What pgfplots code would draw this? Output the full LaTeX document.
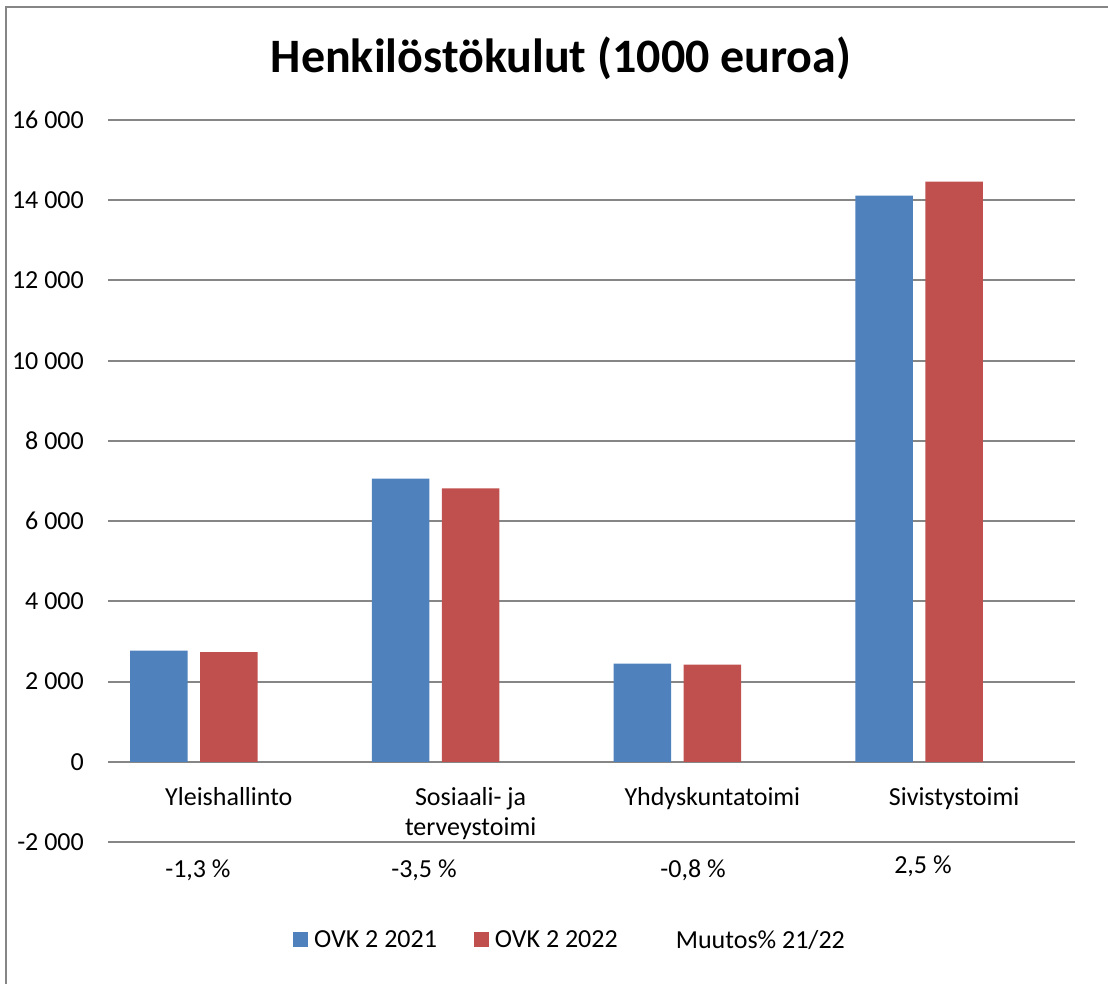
\documentclass[border=0pt]{standalone}
\usepackage{fontspec}
\setmainfont{Carlito}
\usepackage{pgfplots}
\pgfplotsset{compat=1.18}
\definecolor{xlblue}{HTML}{4F81BD}
\definecolor{xlred}{HTML}{C0504D}
\definecolor{xlgrid}{HTML}{868686}
\begin{document}
\begin{tikzpicture}[x=1pt,y=1pt]
\useasboundingbox (0,0) rectangle (1108,983);
\draw[xlgrid, line width=2pt] (6,-5) -- (6,976) -- (1115,976);
\node[font=\fontsize{48}{57}\bfseries\selectfont, anchor=base] at (561,910) {Henkilöstökulut (1000 euroa)};
\begin{axis}[
  at={(108pt,141pt)}, anchor=south west,
  scale only axis, width=967pt, height=722pt,
  xmin=-0.5, xmax=3.5, ymin=-2000, ymax=16000,
  axis line style={draw=none},
  major tick length=0pt,
  scaled y ticks=false,
  xtick={0,1,2,3},
  xticklabels={Yleishallinto,{Sosiaali- ja\\terveystoimi},Yhdyskuntatoimi,Sivistystoimi},
  ytick={-2000,0,2000,4000,6000,8000,10000,12000,14000,16000},
  yticklabels={-2 000,0,2 000,4 000,6 000,8 000,10 000,12 000,14 000,16 000},
  /pgf/number format/assume math mode=true,
  tick label style={font=\fontsize{26}{29.5}\selectfont},
  yticklabel style={inner sep=0pt, anchor=east},
  yticklabel shift=24pt,
  xticklabel style={inner sep=0pt, anchor=north, align=center, yshift=54.5pt},
  ymajorgrids,
  grid style={xlgrid, line width=2pt},
  clip=false,
  legend columns=3,
  legend style={draw=none, fill=none, inner xsep=0pt, inner ysep=0pt,
    at={(axis description cs:0.1913,-0.1357)}, anchor=west,
    font=\fontsize{26}{30}\selectfont,
    nodes={inner sep=0pt, anchor=west},
    /tikz/every odd column/.append style={column sep=6pt},
    /tikz/every even column/.append style={column sep=37pt}},
]
\addplot[ybar, bar width=0.238, bar shift=-0.29, fill=xlblue, draw=none,
  legend image code/.code={\path[fill=xlblue] (0pt,-7.5pt) rectangle (15pt,7.5pt);}]
  coordinates {(0,2770) (1,7060) (2,2445) (3,14115)};
\addlegendentry{OVK 2 2021}
\addplot[ybar, bar width=0.238, bar shift=0, fill=xlred, draw=none,
  legend image code/.code={\path[fill=xlred] (0pt,-7.5pt) rectangle (15pt,7.5pt);}]
  coordinates {(0,2735) (1,6815) (2,2425) (3,14465)};
\addlegendentry{OVK 2 2022}
\addplot[ybar, bar width=0.238, bar shift=0.29, fill=none, draw=none,
  legend image code/.code={\path (0pt,-7.5pt) rectangle (15pt,7.5pt);}]
  coordinates {(0,0) (1,0) (2,0) (3,0)};
\addlegendentry{Muutos\% 21/22}
\node[anchor=base, font=\fontsize{26}{30}\selectfont] at (axis cs:-0.128,-2873) {-1,3 \%};
\node[anchor=base, font=\fontsize{26}{30}\selectfont] at (axis cs:0.807,-2873) {-3,5 \%};
\node[anchor=base, font=\fontsize{26}{30}\selectfont] at (axis cs:1.920,-2873) {-0,8 \%};
\node[anchor=base, font=\fontsize{26}{30}\selectfont] at (axis cs:2.871,-2773) {2,5 \%};
\end{axis}
\end{tikzpicture}
\end{document}
